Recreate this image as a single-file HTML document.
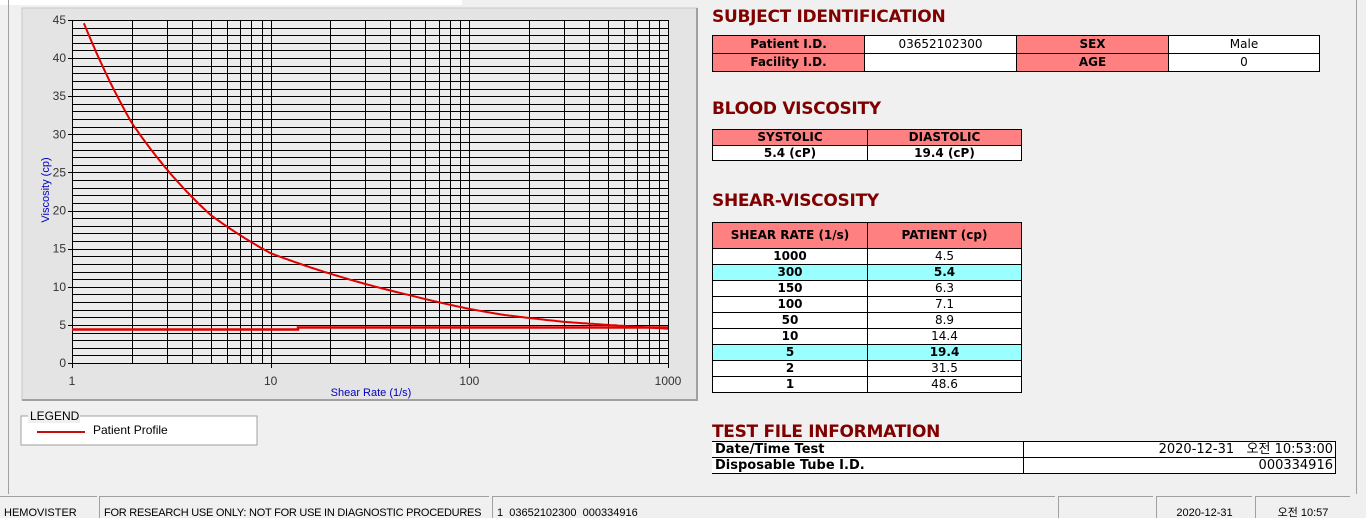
<!DOCTYPE html>
<html><head><meta charset="utf-8"><style>
html,body{margin:0;width:1366px;height:518px;overflow:hidden}
body{background:#f0f0f0;position:relative;font-family:"Liberation Sans","Noto Sans CJK KR",sans-serif;}
.a{position:absolute}
.t{position:absolute;color:#800000;font-weight:bold;font-size:17px;font-family:"DejaVu Sans","Liberation Sans",sans-serif;letter-spacing:-0.3px}
table{position:absolute;border-collapse:collapse;font-size:12px;font-family:"DejaVu Sans","Liberation Sans","Noto Sans CJK KR",sans-serif;table-layout:fixed}
td{border:1px solid #000;padding:0;text-align:center}
td>div{height:15px;line-height:15px;overflow:hidden;white-space:nowrap}
.p{background:#ff8080;font-weight:bold}
.w{background:#fff}
.c{background:#99ffff;font-weight:bold}
.b{font-weight:bold}
.sb{position:absolute;top:496px;height:22px;border-left:1px solid #a0a0a0;border-top:1px solid #a0a0a0;font-size:11px;line-height:32px;padding-left:4px;box-sizing:border-box;white-space:nowrap;overflow:hidden}
</style></head><body>
<div class="a" style="left:0;top:0;width:462px;height:5px;background:#fff"></div>
<div class="a" style="left:8px;top:0;width:1px;height:494px;background:#a0a0a0"></div>
<div class="a" style="left:1356px;top:0;width:1px;height:494px;background:#a0a0a0"></div>
<svg class="a" style="left:0;top:0" width="700" height="460" id="s">
<rect x="22" y="8" width="675" height="392" fill="#e4e4e4" stroke="#c8c8c8"/>
<rect x="696" y="8" width="2" height="392" fill="#a0a0a0"/>
<rect x="22" y="399" width="676" height="2" fill="#a0a0a0"/>
<rect x="72" y="20" width="596" height="343" fill="#ececec"/>
<g id="g" stroke="#000" stroke-width="1"></g>
<g font-size="12" fill="#333" font-family="Liberation Sans,sans-serif" id="lab"></g>
<text x="371" y="396" font-size="11" fill="#0000c0" text-anchor="middle">Shear Rate (1/s)</text>
<text transform="translate(49,190) rotate(-90)" font-size="11" fill="#0000c0" text-anchor="middle">Viscosity (cp)</text>
<g id="cv"></g>
<rect x="21" y="416" width="236" height="29" fill="#fff" stroke="#a0a0a0"/>
<rect x="28" y="409" width="52" height="14" fill="#f0f0f0"/>
<text x="30" y="420" font-size="12" fill="#000">LEGEND</text>
<line x1="37" y1="432" x2="85" y2="432" stroke="#c01010" stroke-width="2"/>
<text x="93" y="434" font-size="12" fill="#000">Patient Profile</text>
</svg>
<script>
var g=document.getElementById('g'),lab=document.getElementById('lab'),cv=document.getElementById('cv'),ns='http://www.w3.org/2000/svg';
function el(p,n,a,t){var e=document.createElementNS(ns,n);for(var k in a)e.setAttribute(k,a[k]);if(t)e.textContent=t;p.appendChild(e);return e;}
function X(v){return 72+198.67*Math.log10(v);}function Y(v){return 363-v*343/45;}
for(var i=0;i<=45;i++){var y=Math.round(Y(i))+.5;el(g,'line',{x1:72,x2:668,y1:y,y2:y});}
for(var d=1;d<=100;d*=10)for(var m=1;m<=10;m++){var x=Math.round(X(d*m))+.5;el(g,'line',{x1:x,x2:x,y1:20,y2:363});}
for(var i=0;i<=45;i+=5){var y=Y(i);el(lab,'text',{x:66,y:y+4,'text-anchor':'end'},''+i);el(g,'line',{x1:68,x2:72,y1:Math.round(y)+.5,y2:Math.round(y)+.5});}
[1,10,100,1000].forEach(function(v){var x=X(v);el(lab,'text',{x:x,y:385,'text-anchor':'middle'},''+v);el(g,'line',{x1:Math.round(x)+.5,x2:Math.round(x)+.5,y1:363,y2:368});});
var P=[[1,48.6],[2,31.5],[5,19.4],[10,14.4],[50,8.9],[100,7.1],[150,6.3],[300,5.4],[1000,4.5]];
var pts=[];for(var k=0;k<=300;k++){var lr=k/100,r=Math.pow(10,lr);for(var j=0;j<P.length-1;j++)if(r<=P[j+1][0]+1e-9)break;
var a=P[j],b=P[j+1];var f=(lr-Math.log10(a[0]))/(Math.log10(b[0])-Math.log10(a[0]));var v=Math.exp(Math.log(a[1])+f*(Math.log(b[1])-Math.log(a[1])));if(v>45)continue;pts.push(X(r).toFixed(1)+','+Y(v).toFixed(1));}
el(cv,'polyline',{points:pts.join(' '),fill:'none',stroke:'#e00000','stroke-width':2});
el(cv,'polyline',{points:'72,329.5 298,329.5 298,327.5 668,327.5',fill:'none',stroke:'#e00000','stroke-width':2.5});
</script>
<div class="t" style="left:712px;top:7px">SUBJECT IDENTIFICATION</div>
<table style="left:712px;top:35px;width:608px">
<tr><td class="p" style="width:151px"><div style="height:17px;line-height:17px">Patient I.D.</div></td><td class="w" style="width:151px"><div style="height:17px;line-height:17px">03652102300</div></td><td class="p" style="width:151px"><div style="height:17px;line-height:17px">SEX</div></td><td class="w"><div style="height:17px;line-height:17px">Male</div></td></tr>
<tr><td class="p"><div style="height:17px;line-height:17px">Facility I.D.</div></td><td class="w"><div style="height:17px"></div></td><td class="p"><div style="height:17px;line-height:17px">AGE</div></td><td class="w"><div style="height:17px;line-height:17px">0</div></td></tr></table>
<div class="t" style="left:712px;top:99px">BLOOD VISCOSITY</div>
<table style="left:712px;top:129px;width:310px">
<tr><td class="p" style="width:154px"><div style="height:15px">SYSTOLIC</div></td><td class="p"><div>DIASTOLIC</div></td></tr>
<tr><td class="w b"><div style="height:14px;line-height:14px">5.4 (cP)</div></td><td class="w b"><div style="height:14px;line-height:14px">19.4 (cP)</div></td></tr></table>
<div class="t" style="left:712px;top:191px">SHEAR-VISCOSITY</div>
<table style="left:712px;top:222px;width:310px">
<tr><td class="p" style="width:154px"><div style="height:25px;line-height:25px">SHEAR RATE (1/s)</div></td><td class="p"><div style="height:25px;line-height:25px">PATIENT (cp)</div></td></tr>
<tr><td class="w b"><div>1000</div></td><td class="w"><div>4.5</div></td></tr>
<tr><td class="c"><div>300</div></td><td class="c"><div>5.4</div></td></tr>
<tr><td class="w b"><div>150</div></td><td class="w"><div>6.3</div></td></tr>
<tr><td class="w b"><div>100</div></td><td class="w"><div>7.1</div></td></tr>
<tr><td class="w b"><div>50</div></td><td class="w"><div>8.9</div></td></tr>
<tr><td class="w b"><div>10</div></td><td class="w"><div>14.4</div></td></tr>
<tr><td class="c"><div>5</div></td><td class="c"><div>19.4</div></td></tr>
<tr><td class="w b"><div>2</div></td><td class="w"><div>31.5</div></td></tr>
<tr><td class="w b"><div>1</div></td><td class="w"><div>48.6</div></td></tr></table>
<div class="t" style="left:712px;top:422px">TEST FILE INFORMATION</div>
<table style="left:712px;top:441px;width:624px;font-size:13px">
<tr><td class="w b" style="width:308px;text-align:left;padding-left:3px;border-left:none"><div>Date/Time Test</div></td><td class="w" style="text-align:right;padding-right:2px"><div>2020-12-31&nbsp;&nbsp;&nbsp;오전 10:53:00</div></td></tr>
<tr><td class="w b" style="text-align:left;padding-left:3px;border-left:none"><div>Disposable Tube I.D.</div></td><td class="w" style="text-align:right;padding-right:2px"><div>000334916</div></td></tr></table>
<div class="sb" style="left:0;width:97px;border-left:none">HEMOVISTER</div>
<div class="sb" style="left:99px;width:390px;letter-spacing:-0.25px">FOR RESEARCH USE ONLY: NOT FOR USE IN DIAGNOSTIC PROCEDURES</div>
<div class="sb" style="left:492px;width:563px">1&nbsp;&nbsp;03652102300&nbsp;&nbsp;000334916</div>
<div class="sb" style="left:1058px;width:95px"></div>
<div class="sb" style="left:1156px;width:96px;text-align:center;padding:0">2020-12-31</div>
<div class="sb" style="left:1255px;width:95px;text-align:center;padding:0">오전 10:57</div>
</body></html>
